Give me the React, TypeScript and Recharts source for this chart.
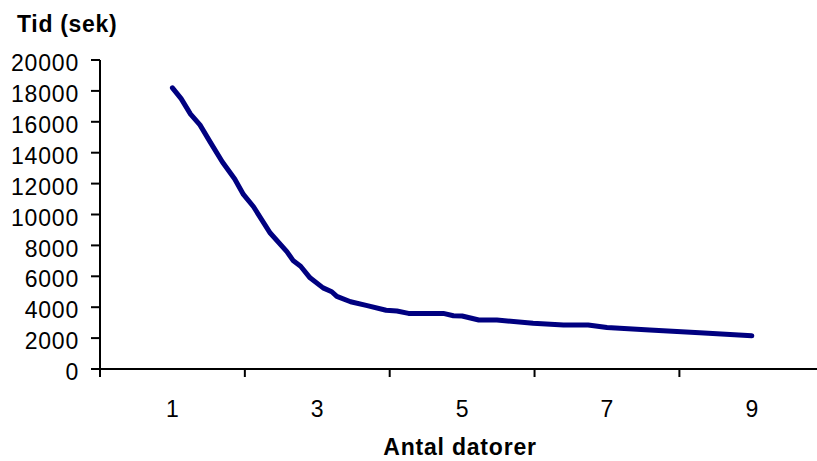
import React from 'react';
import { LineChart, Line, XAxis, YAxis } from 'recharts';

// ─── Data ─────────────────────────────────────────────────────────────────────

const antalDatorer = [
  1.0, 1.12, 1.25, 1.38, 1.52, 1.69, 1.86, 1.98, 2.12, 2.35, 2.58, 2.67, 2.77, 2.9, 3.08, 3.2, 3.27,
  3.46, 3.69, 3.95, 4.1, 4.26, 4.74, 4.88, 5.0, 5.23, 5.48, 5.98, 6.4, 6.74, 7.0, 7.59, 8.28, 9.0,
];

const tidSek = [
  18200, 17500, 16500, 15800, 14700, 13400, 12300, 11300, 10500, 8800, 7600, 7000, 6650, 5900, 5250,
  5000, 4700, 4350, 4100, 3800, 3750, 3600, 3600, 3450, 3430, 3170, 3170, 2960, 2850, 2850, 2680,
  2520, 2350, 2150,
];

const yTicks = [0, 2000, 4000, 6000, 8000, 10000, 12000, 14000, 16000, 18000, 20000];
const xTicks = [0, 1, 2, 3, 4, 5, 6, 7, 8, 9];

const data = antalDatorer.map((x, i) => ({ x, tid: tidSek[i] }));

const FONT = '"Liberation Sans", Arial, sans-serif';

// even values get a tick mark, odd values get a label (Excel-style category axis)
const XTick = ({ x, y, payload }: any) => {
  const v = payload.value;
  if (v % 2 === 0) {
    return <line x1={x} y1={y} x2={x} y2={y + 8} stroke="#000" strokeWidth={2} />;
  }
  return (
    <text x={x} y={y + 48} textAnchor="middle" fontSize={23} fill="#000" fontFamily={FONT}>
      {v}
    </text>
  );
};

const YTick = ({ x, y, payload }: any) => (
  <text
    x={x}
    y={y + 3}
    dy="0.355em"
    textAnchor="end"
    fontSize={23}
    letterSpacing={0.8}
    fill="#000"
    fontFamily={FONT}
  >
    {payload.value}
  </text>
);

export default function App() {
  return (
    <div style={{ position: 'relative', width: 817, height: 461, background: '#fff', fontFamily: FONT }}>
      <style>{`body{margin:0;overflow:hidden;background:#fff}`}</style>
      <div
        style={{
          position: 'absolute',
          left: 17,
          top: 13,
          fontSize: 23,
          lineHeight: 1,
          fontWeight: 'bold',
          letterSpacing: 0.7,
          whiteSpace: 'nowrap',
        }}
      >
        Tid (sek)
      </div>
      <div
        style={{
          position: 'absolute',
          left: 0,
          width: 920,
          top: 436,
          textAlign: 'center',
          fontSize: 23,
          lineHeight: 1,
          fontWeight: 'bold',
          letterSpacing: 0.8,
          whiteSpace: 'nowrap',
        }}
      >
        Antal datorer
      </div>
      <LineChart width={817} height={461} data={data} margin={{ top: 60, right: 0, bottom: 0, left: 0 }}>
        <XAxis
          dataKey="x"
          type="number"
          domain={[0, 9.9]}
          ticks={xTicks}
          interval={0}
          height={92}
          tickSize={0}
          tickMargin={0}
          tickLine={false}
          axisLine={{ stroke: '#000', strokeWidth: 2 }}
          tick={<XTick />}
          allowDataOverflow
        />
        <YAxis
          domain={[0, 20000]}
          ticks={yTicks}
          interval={0}
          width={100}
          tickSize={9}
          tickMargin={12}
          tickLine={{ stroke: '#000', strokeWidth: 2 }}
          axisLine={{ stroke: '#000', strokeWidth: 2 }}
          tick={<YTick />}
        />
        <Line
          dataKey="tid"
          type="linear"
          stroke="#000080"
          strokeWidth={5}
          strokeLinejoin="round"
          strokeLinecap="round"
          dot={false}
          activeDot={false}
          isAnimationActive={false}
        />
      </LineChart>
    </div>
  );
}
